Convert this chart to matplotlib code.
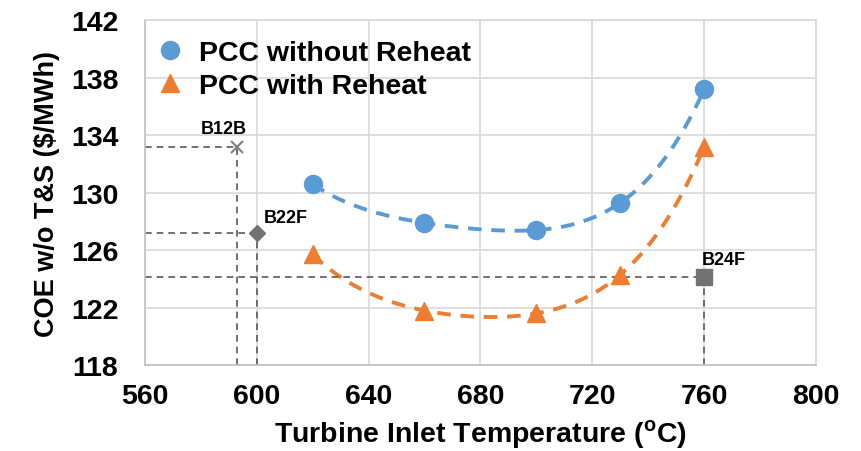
import matplotlib
matplotlib.use("Agg")
import matplotlib.pyplot as plt
import numpy as np

plt.rcParams['font.family'] = ['Liberation Sans', 'DejaVu Sans']
plt.rcParams['font.weight'] = 'bold'
plt.rcParams['mathtext.fontset'] = 'custom'
plt.rcParams['mathtext.rm'] = 'Liberation Sans:bold'
plt.rcParams['mathtext.bf'] = 'Liberation Sans:bold'

# data
tit = [620, 660, 700, 730, 760]
coe_no_reheat = [130.6, 127.9, 127.4, 129.3, 137.2]
coe_reheat = [125.7, 121.8, 121.6, 124.3, 133.2]

ref_names = ['B12B', 'B22F', 'B24F']
ref_tit = [593, 600, 760]
ref_coe = [133.2, 127.2, 124.1]
ref_markers = ['x', 'D', 's']

blue = '#5B9BD5'
orange = '#ED7D31'
grey = '#767171'

fig, ax = plt.subplots(figsize=(8.61, 4.52), dpi=100)
fig.subplots_adjust(left=0.168, right=0.948, top=0.953, bottom=0.19)

ax.set_xlim(560, 800)
ax.set_ylim(118, 142)
ax.set_xticks(np.arange(560, 801, 40))
ax.set_yticks(np.arange(118, 143, 4))
ax.grid(True, color='#d9d9d9', lw=1.2)
ax.set_axisbelow(True)
for s in ax.spines.values():
    s.set_color('#d9d9d9')
    s.set_linewidth(1.2)
ax.spines['bottom'].set_color('#bfbfbf')
ax.spines['left'].set_color('#bfbfbf')
ax.tick_params(length=0, labelsize=20.5)
ax.tick_params(axis='y', pad=19)
ax.tick_params(axis='x', pad=13)

# trend lines (polynomial fit like Excel)
xs = np.linspace(620, 760, 200)
for y, c in [(coe_no_reheat, blue), (coe_reheat, orange)]:
    p = np.polyfit(tit, y, 4)
    ax.plot(xs, np.polyval(p, xs), ls=(0, (3.5, 2.5)), color=c, lw=2.8, zorder=2)

ax.plot(tit, coe_no_reheat, 'o', color=blue, ms=13, zorder=3, label='PCC without Reheat')
ax.plot(tit, coe_reheat, '^', color=orange, ms=13, zorder=3, label='PCC with Reheat')

# reference cases with guide lines
offsets = [(-26, 10), (5, 8), (-2, 10)]
for name, x, y, m, off in zip(ref_names, ref_tit, ref_coe, ref_markers, offsets):
    ax.plot([560, x], [y, y], ls=(0, (4, 3)), color='#595959', lw=1.2, zorder=2)
    ax.plot([x, x], [118, y], ls=(0, (4, 3)), color='#595959', lw=1.2, zorder=2)
    if m == 'x':
        ax.plot(x, y, m, color='#7f7f7f', ms=9, mew=1.5, zorder=3)
    else:
        ax.plot(x, y, m, color=grey, ms=11 if m == 's' else 8, zorder=3)
    ax.annotate(name, (x, y), xytext=off, textcoords='offset points',
                fontsize=13, fontweight='bold')

ax.legend(loc='upper left', frameon=False, fontsize=20.5, handlelength=1.0,
          handletextpad=0.5, borderaxespad=0.0, labelspacing=0.22,
          bbox_to_anchor=(0.0, 0.975))

ax.set_xlabel(r'Turbine Inlet Temperature ($^{\mathbf{o}}$C)', fontsize=20.5,
              fontweight='bold', labelpad=6)
ax.set_ylabel(r'COE w/o T&S (\$/MWh)', fontsize=19.5, fontweight='bold', labelpad=8)

fig.savefig('out.png', dpi=100)
